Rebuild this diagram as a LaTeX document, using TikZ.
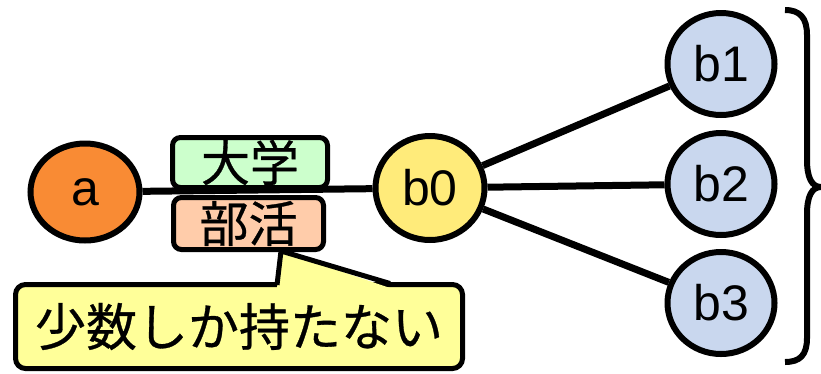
\documentclass[tikz,border=0pt]{standalone}
\usepackage{fontspec}
\setmainfont{Liberation Sans}
\newfontfamily\cjk[FakeBold=0.6]{Noto Sans CJK JP}
\usetikzlibrary{shapes.geometric,backgrounds}
\definecolor{aorange}{HTML}{F98B34}
\definecolor{byellow}{HTML}{FFEB7A}
\definecolor{bblue}{HTML}{C9D7EE}
\definecolor{boxgreen}{HTML}{CCFFCC}
\definecolor{boxpeach}{HTML}{FFCCAA}
\definecolor{callfill}{HTML}{FFFF99}
\tikzset{
  vert/.style={ellipse, draw=black, line width=6pt, inner sep=0pt,
    font=\fontsize{50}{50}\selectfont},
  tagbox/.style={draw=black, line width=5pt, rounded corners=8pt, inner sep=0pt,
    font=\cjk\fontsize{49}{49}\selectfont},
  conn/.style={line width=7pt, draw=black},
}
\begin{document}
\begin{tikzpicture}[x=1pt,y=-1pt]
\useasboundingbox (0,0) rectangle (821,373);
\node[vert, fill=aorange, minimum width=109pt, minimum height=97pt] (a) at (85,192) {a};
\node[vert, fill=byellow, minimum width=109pt, minimum height=104pt] (b0) at (430,188) {b0};
\node[vert, fill=bblue, minimum width=107pt, minimum height=102pt] (b1) at (721,64) {b1};
\node[vert, fill=bblue, minimum width=107pt, minimum height=102pt] (b2) at (721,184) {b2};
\node[vert, fill=bblue, minimum width=107pt, minimum height=102pt] (b3) at (721,303) {b3};
\node[tagbox, fill=boxgreen, minimum width=155pt, minimum height=50pt] (univ) at (250,162.5) {大学};
\node[tagbox, fill=boxpeach, minimum width=150pt, minimum height=52pt] (club) at (248.5,223.5) {部活};
\begin{scope}[on background layer]
  \draw[conn] (a) -- (b0);
  \draw[conn] (b0) -- (b1);
  \draw[conn] (b0) -- (b2);
  \draw[conn] (b0) -- (b3);
\end{scope}
% callout
\node[draw=black, line width=5pt, fill=callfill, rounded corners=10pt, inner sep=0pt,
  minimum width=447pt, minimum height=84pt, font=\cjk\fontsize{51}{51}\selectfont]
  (call) at (239,326.5) {少数しか持たない};
\coordinate (tip) at (281,251);
\fill[callfill] (277,288) -- (tip) -- (390,288) -- cycle;
\draw[line width=5pt, line join=miter] (277,285) -- (tip) -- (390,283.5);
% brace
\draw[line width=6pt] (785,10) .. controls (800,10) and (807,18) .. (807,35)
  -- (807,160) .. controls (807,178) and (812,187) .. (821,187)
  .. controls (812,187) and (807,196) .. (807,214)
  -- (807,338) .. controls (807,355) and (800,362) .. (785,362);
\end{tikzpicture}
\end{document}
